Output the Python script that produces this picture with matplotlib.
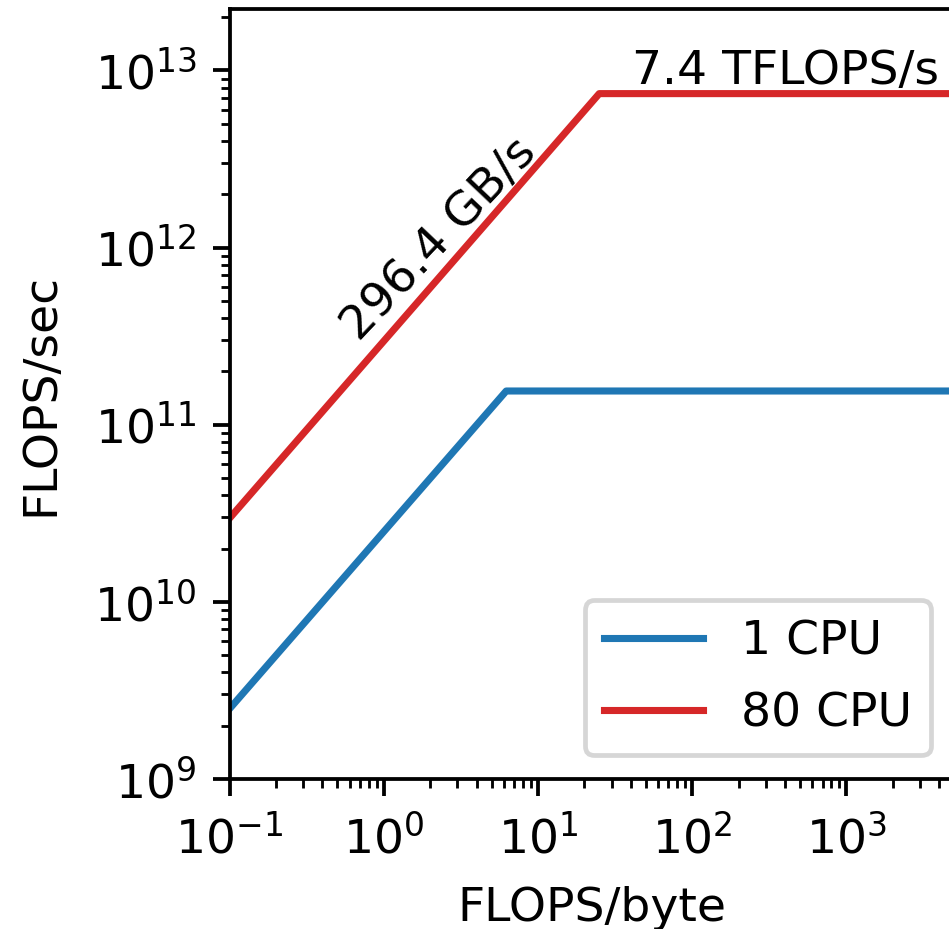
import numpy as np
import matplotlib
matplotlib.use("Agg")
import matplotlib.pyplot as plt

# Data
labels = ["1 CPU", "80 CPU"]
peak_flops = [1.55e11, 7.4e12]          # FLOPS/sec
bandwidth = [24.9e9, 296.4e9]           # bytes/sec
colors = ["#1f77b4", "#d62728"]
x_range = [0.1, 5000.0]
y_range = [1e9, 2.22e13]

DPI = 340
fig = plt.figure(figsize=(949.2 / DPI, 929.2 / DPI), dpi=DPI)
W, H = 949.0, 929.0
left, right, top, bottom = 229.5, 954.0, 9.3, 779.0
ax = fig.add_axes([left / W, (H - bottom) / H, (right - left) / W, (bottom - top) / H])

for lab, pk, bw, c in zip(labels, peak_flops, bandwidth, colors):
    knee = pk / bw
    xs = np.array([x_range[0], knee, x_range[1] * 2])
    ys = np.minimum(pk, bw * xs)
    ax.plot(xs, ys, color=c, lw=1.5, label=lab)

ax.set_xscale("log")
ax.set_yscale("log")
ax.set_xlim(*x_range)
ax.set_ylim(*y_range)
ax.tick_params(axis="x", which="major", pad=4.2)
ax.set_xlabel("FLOPS/byte", labelpad=4.8)
ax.set_ylabel("FLOPS/sec", labelpad=6.5)

# annotations for the 80 CPU roofline
ax.text(2.62, 1.0e12, "%.1f GB/s" % (bandwidth[1] / 1e9), rotation=46.5,
        rotation_mode="anchor", ha="center", va="baseline", fontsize=10)
ax.text(4000, peak_flops[1], "%.1f TFLOPS/s" % (peak_flops[1] / 1e12),
        ha="right", va="bottom", fontsize=10)

ax.legend(loc="lower right", labelspacing=0.58, handlelength=2.1)

fig.savefig("out.png", dpi=DPI)
